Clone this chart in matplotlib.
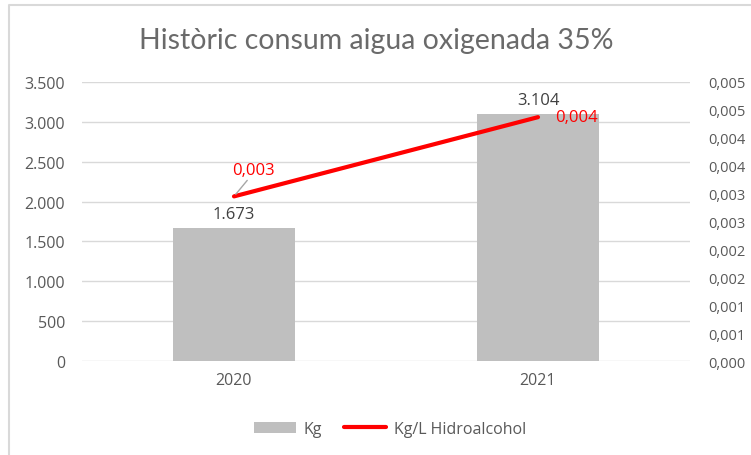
"""Històric consum aigua oxigenada 35%."""
import matplotlib
matplotlib.use("Agg")
from matplotlib import pyplot as plt
from matplotlib.lines import Line2D

years = ["2020", "2021"]
kg = [1673, 3104]
kg_per_l = [0.00295, 0.00437]
kg_labels = ["1.673", "3.104"]
ratio_labels = ["0,003", "0,004"]
left_ticks = [0, 500, 1000, 1500, 2000, 2500, 3000, 3500]
left_labels = ["0", "500", "1.000", "1.500", "2.000", "2.500", "3.000", "3.500"]
right_ticks = [0, 0.0005, 0.001, 0.0015, 0.002, 0.0025, 0.003, 0.0035, 0.004, 0.0045, 0.005]
right_labels = ["0,000", "0,001", "0,001", "0,002", "0,002", "0,003",
                "0,003", "0,004", "0,004", "0,005", "0,005"]

plt.rcParams["font.family"] = ["Open Sans", "DejaVu Sans"]
txt = "#595959"

fig = plt.figure(figsize=(7.51, 4.56), dpi=100)
# outer frame: only top and left edges show in the original
fig.lines.append(Line2D([9 / 751, 9 / 751, 1.0], [0.0, 1 - 6 / 456, 1 - 6 / 456],
                        transform=fig.transFigure, color="#d9d9d9", linewidth=1.5))

ax = fig.add_axes([82 / 751, 1 - 362 / 456, 608 / 751, 279 / 456])
x = range(len(years))
bars = ax.bar(x, kg, width=0.4, color="#bfbfbf", label="Kg", zorder=2)
ax.set_xlim(-0.5, 1.5)
ax.set_ylim(0, 3500)
ax.set_yticks(left_ticks)
ax.set_yticklabels(left_labels)
ax.set_xticks(list(x))
ax.set_xticklabels(years)
ax.grid(axis="y", color="#d9d9d9", linewidth=1, zorder=0)
for s in ax.spines.values():
    s.set_visible(False)
ax.tick_params(length=0, labelcolor=txt, labelsize=11.5, pad=12)
ax.tick_params(axis="x", pad=8)

for i, v in enumerate(kg):
    ax.text(i, v + 70, kg_labels[i], ha="center", va="bottom", color="#404040", fontsize=12)

ax2 = ax.twinx()
line, = ax2.plot(list(x), kg_per_l, color="red", linewidth=3, solid_capstyle="round",
                 label="Kg/L Hidroalcohol", zorder=3)
ax2.set_ylim(0, 0.005)
ax2.set_yticks(right_ticks)
ax2.set_yticklabels(right_labels)
for s in ax2.spines.values():
    s.set_visible(False)
ax2.tick_params(length=0, labelcolor=txt, labelsize=10.5, pad=13)

ax2.annotate(ratio_labels[0], xy=(0, kg_per_l[0]), xytext=(-0.005, kg_per_l[0] + 0.00048),
             color="red", fontsize=12, ha="left", va="center",
             arrowprops=dict(arrowstyle="-", color="#a6a6a6", lw=1, shrinkA=0, shrinkB=2,
                             relpos=(0.4, 0)))
ax2.text(1.055, kg_per_l[1], ratio_labels[1], color="red", fontsize=12, ha="left", va="center")

fig.text(376 / 751, 1 - 41 / 456, "Històric consum aigua oxigenada 35%", ha="center",
         va="center", fontsize=20.5, color="#6a6a6a", family=["Lato", "DejaVu Sans"])

fig.legend([bars, line], ["Kg", "Kg/L Hidroalcohol"], loc="center",
           bbox_to_anchor=(390 / 751, 1 - 430 / 456), ncol=2, frameon=False,
           fontsize=11.5, labelcolor=txt, handlelength=2.6, columnspacing=1.4,
           handletextpad=0.5)

fig.savefig("out.png", dpi=100)
